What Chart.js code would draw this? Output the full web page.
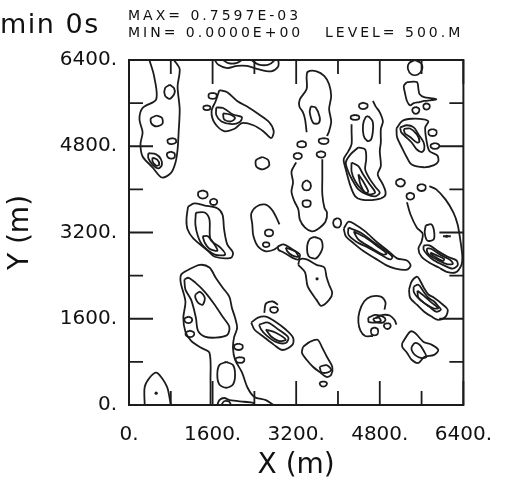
<!DOCTYPE html>
<html>
<head>
<meta charset="utf-8">
<style>
  html, body { margin: 0; padding: 0; background: #fff; }
</style>
</head>
<body>
<canvas id="contour-chart" width="510" height="488"></canvas>
<script src="https://cdn.jsdelivr.net/npm/chart.js@4.4.1/dist/chart.umd.min.js"></script>
<script>
// axis ticks (m)
const majorTicks = [0, 1600, 3200, 4800, 6400];
const minorTicks = [800, 2400, 4000, 5600];

// header text
const timeLabel = 'min 0s';
const maxLabel = 'MAX= 0.7597E-03';
const minLabel = 'MIN= 0.0000E+00';
const levelLabel = 'LEVEL= 500.M';

// contour lines, [x, y] in metres
const westStrip = [[390,6400],[480,6100],[520,5670],[260,5510],[200,5300],[260,5060],[220,4840],[260,4610],[450,4410],[630,4220],[800,4300],[890,4500],[930,4740],[950,5060],[970,5490],[930,5910],[970,6230],[860,6400]];
const westOvalA = [[780,5940],[860,5880],[870,5780],[780,5680],[690,5740],[690,5880],[780,5940]];
const westOvalB = [[530,5370],[630,5330],[640,5220],[530,5170],[430,5220],[420,5320],[530,5370]];
const westOvalC = [[820,4950],[890,4930],[900,4870],[820,4840],[750,4860],[740,4920],[820,4950]];
const westOvalD = [[800,4700],[870,4670],[870,4590],[800,4570],[740,4600],[730,4670],[800,4700]];
const westCore = [[370,4670],[520,4650],[610,4560],[630,4450],[560,4390],[450,4460],[370,4580],[370,4670]];
const westCoreInner = [[450,4590],[540,4550],[580,4460],[520,4440],[450,4520],[450,4590]];

const topBlob = [[1640,6400],[1710,6310],[1880,6250],[2070,6290],[2250,6290],[2470,6230],[2720,6190],[2850,6270],[2860,6380],[2830,6400]];
const topBlobInnerA = [[1800,6400],[1900,6340],[2050,6340],[2160,6400]];
const topBlobInnerB = [[2340,6400],[2470,6320],[2660,6310],[2770,6380],[2750,6400]];

const streak = [[1730,5840],[1880,5800],[2070,5640],[2290,5520],[2490,5390],[2680,5250],[2770,5080],[2720,4950],[2570,5080],[2380,5190],[2160,5230],[2030,5130],[1820,5080],[1640,5230],[1580,5450],[1660,5640],[1730,5840]];
const streakInner = [[1670,5520],[1800,5510],[1990,5390],[2160,5340],[2120,5250],[1970,5210],[1770,5260],[1670,5380],[1670,5520]];
const streakCore = [[1800,5410],[1930,5390],[2030,5320],[1950,5260],[1820,5300],[1800,5410]];
const streakOvalA = [[1600,5790],[1670,5770],[1670,5700],[1600,5680],[1530,5700],[1530,5770],[1600,5790]];
const streakOvalB = [[1490,5560],[1550,5540],[1550,5490],[1490,5470],[1430,5490],[1430,5540],[1490,5560]];
const loneOval = [[2550,4600],[2660,4550],[2680,4440],[2560,4370],[2440,4420],[2430,4540],[2550,4600]];

const midWest = [[1130,3680],[1250,3740],[1450,3700],[1690,3650],[1790,3530],[1820,3260],[1880,2980],[1990,2830],[1950,2730],[1640,2750],[1510,2860],[1230,3090],[1120,3260],[1100,3440],[1130,3680]];
const midWestInner = [[1280,3570],[1450,3570],[1540,3440],[1560,3070],[1750,2920],[1840,2790],[1640,2790],[1410,2960],[1320,3130],[1270,3350],[1280,3570]];
const midWestCore = [[1410,3130],[1510,3130],[1660,2940],[1690,2860],[1540,2900],[1450,3010],[1410,3130]];
const midWestOvalA = [[1410,3980],[1490,3950],[1500,3870],[1410,3830],[1330,3870],[1330,3950],[1410,3980]];
const midWestOvalB = [[1620,3830],[1680,3800],[1680,3740],[1620,3710],[1560,3740],[1560,3800],[1620,3830]];

const hook = [[2880,3350],[2810,3500],[2730,3630],[2600,3720],[2440,3680],[2340,3550],[2360,3350],[2380,3140],[2470,2940],[2620,2850],[2770,2880],[2860,2940]];
const hookOvalA = [[2680,3260],[2750,3230],[2750,3160],[2680,3130],[2610,3160],[2610,3230],[2680,3260]];
const hookOvalB = [[2620,3020],[2680,3000],[2680,2950],[2620,2930],[2570,2950],[2570,3000],[2620,3020]];
const chain = [[2850,2940],[2960,2980],[3140,2880],[3270,2790],[3240,2700],[3130,2730],[2960,2830],[2860,2880],[2850,2940]];
const chainCore = [[3000,2920],[3180,2850],[3240,2750],[3130,2770],[3030,2850],[3000,2920]];

const centerDrop = [[3240,2600],[3370,2460],[3420,2200],[3590,1950],[3680,1840],[3830,1950],[3890,2080],[3830,2230],[3780,2380],[3740,2550],[3590,2600],[3400,2700],[3270,2700],[3240,2600]];
const centerOval = [[3550,3120],[3680,3060],[3700,2900],[3580,2720],[3440,2760],[3410,2950],[3460,3080],[3550,3120]];

const column = [[3200,4500],[3110,4330],[3140,4130],[3110,3960],[3160,3790],[3240,3630],[3270,3440],[3370,3290],[3500,3220],[3610,3260],[3760,3400],[3790,3570],[3740,3660],[3700,3910],[3700,4190],[3700,4560]];
const columnOvalA = [[3400,4170],[3470,4120],[3470,4020],[3400,3980],[3330,4020],[3330,4120],[3400,4170]];
const columnOvalB = [[3400,3800],[3470,3780],[3470,3700],[3400,3670],[3330,3700],[3330,3780],[3400,3800]];
const columnSpeckA = [[3310,4900],[3380,4870],[3380,4800],[3310,4780],[3230,4800],[3230,4870],[3310,4900]];
const columnSpeckB = [[3230,4680],[3300,4650],[3300,4590],[3230,4560],[3160,4590],[3160,4650],[3230,4680]];
const columnSpeckC = [[3730,4950],[3810,4930],[3810,4870],[3730,4840],[3640,4870],[3640,4930],[3730,4950]];
const columnSpeckD = [[3680,4710],[3750,4680],[3750,4620],[3680,4590],[3600,4620],[3600,4680],[3680,4710]];

const upperColumn = [[3400,5060],[3370,5300],[3330,5430],[3260,5540],[3270,5670],[3400,5860],[3400,6080],[3420,6180],[3590,6190],[3740,6100],[3830,5950],[3870,5730],[3830,5490],[3870,5260],[3830,5080],[3790,4990]];
const upperColumnCore = [[3480,5540],[3570,5520],[3650,5340],[3630,5230],[3530,5230],[3460,5430],[3480,5540]];

const tower = [[4260,5210],[4260,5080],[4260,4840],[4200,4710],[4110,4560],[4150,4370],[4240,4060],[4330,3870],[4450,3810],[4720,3810],[4890,3870],[4910,3960],[4860,4090],[4760,4280],[4820,4430],[4800,4710],[4820,4870],[4820,5120],[4860,5260],[4800,5430],[4720,5540],[4670,5640]];
const towerTopA = [[4480,5610],[4560,5580],[4560,5520],[4480,5490],[4410,5520],[4410,5580],[4480,5610]];
const towerTopB = [[4330,5380],[4400,5360],[4400,5310],[4330,5290],[4250,5310],[4250,5360],[4330,5380]];
const towerSlot = [[4580,5360],[4660,5270],[4670,5100],[4630,4920],[4560,4900],[4490,5000],[4480,5200],[4530,5340],[4580,5360]];
const towerInnerA = [[4390,4780],[4520,4740],[4540,4560],[4520,4370],[4610,4190],[4720,4040],[4800,3940],[4710,3870],[4540,3910],[4390,4000],[4300,4130],[4200,4320],[4150,4500],[4240,4650],[4390,4780]];
const towerInnerB = [[4260,4500],[4390,4430],[4480,4280],[4610,4090],[4710,3940],[4580,3910],[4450,4000],[4330,4150],[4260,4330],[4260,4500]];
const towerInnerC = [[4390,4280],[4480,4150],[4580,3960],[4520,3940],[4430,4090],[4390,4280]];

const eastBox = [[5120,5130],[5230,5270],[5410,5310],[5640,5300],[5730,5260],[5670,5150],[5690,4930],[5750,4710],[5900,4630],[5920,4520],[5840,4450],[5640,4410],[5410,4460],[5320,4590],[5220,4780],[5130,4970],[5120,5130]];
const eastBoxInner = [[5190,5150],[5320,5190],[5450,5150],[5540,5020],[5640,4870],[5650,4740],[5600,4690],[5510,4740],[5410,4870],[5280,4990],[5210,5060],[5190,5150]];
const eastBoxCore = [[5260,5120],[5380,5130],[5510,5020],[5560,4890],[5510,4870],[5380,4970],[5280,5040],[5260,5120]];
const eastOvalA = [[5810,5120],[5880,5090],[5880,5020],[5810,4990],[5740,5020],[5740,5090],[5810,5120]];
const eastOvalB = [[5860,4860],[5930,4830],[5930,4780],[5860,4750],[5780,4780],[5780,4830],[5860,4860]];

const claw = [[5320,5990],[5510,5990],[5540,5860],[5560,5770],[5650,5710],[5790,5690],[5880,5670],[5650,5640],[5560,5620],[5450,5600],[5380,5560],[5320,5640],[5280,5800],[5260,5920],[5320,5990]];
const clawOvalA = [[5490,5530],[5550,5500],[5550,5440],[5490,5400],[5430,5440],[5430,5500],[5490,5530]];
const clawOvalB = [[5690,5600],[5750,5570],[5750,5510],[5690,5480],[5640,5510],[5640,5570],[5690,5600]];
const ring = [[5470,6400],[5590,6340],[5610,6230],[5530,6130],[5410,6130],[5340,6230],[5360,6340],[5470,6400]];

const eastDrop = [[5320,3760],[5390,3530],[5510,3290],[5620,3180],[5600,3030],[5540,2900],[5600,2750],[5750,2640],[5930,2550],[6080,2470],[6250,2460],[6360,2590],[6380,2750],[6340,3070],[6290,3350],[6210,3570],[6060,3810],[5880,4000],[5750,4060]];
const eastDropLoop = [[5680,3330],[5790,3350],[5840,3220],[5830,3070],[5710,3050],[5660,3200],[5680,3330]];
const eastDropBandA = [[5640,2960],[5750,2960],[5920,2850],[6100,2750],[6270,2680],[6290,2590],[6190,2530],[6030,2590],[5840,2680],[5710,2790],[5640,2880],[5640,2960]];
const eastDropBandB = [[5710,2910],[5800,2890],[5970,2780],[6150,2690],[6200,2620],[6100,2610],[5920,2680],[5740,2790],[5700,2860],[5710,2910]];
const eastDropBandC = [[5770,2830],[5880,2780],[6030,2710],[6010,2670],[5870,2740],[5780,2800],[5770,2830]];
const eyeDash = [[6010,3130],[6160,3130]];
const eastSpeckA = [[5200,4200],[5270,4160],[5270,4090],[5200,4050],[5120,4090],[5120,4160],[5200,4200]];
const eastSpeckB = [[5600,4100],[5670,4070],[5670,4000],[5600,3970],[5530,4000],[5530,4070],[5600,4100]];
const eastSpeckC = [[5380,3940],[5450,3910],[5450,3840],[5380,3810],[5320,3840],[5320,3910],[5380,3940]];

const diagonal = [[4110,3270],[4200,3400],[4330,3350],[4520,3220],[4760,3010],[4970,2850],[5130,2720],[5320,2680],[5390,2590],[5320,2510],[5100,2530],[4910,2600],[4710,2720],[4480,2860],[4300,3000],[4150,3130],[4110,3270]];
const diagonalInner = [[4200,3290],[4430,3200],[4670,3030],[4890,2880],[5040,2750],[5000,2700],[4820,2790],[4580,2920],[4350,3030],[4200,3160],[4200,3290]];
const diagonalCore = [[4300,3220],[4520,3110],[4760,2940],[4930,2810],[4860,2790],[4630,2920],[4390,3070],[4300,3220]];
const diagonalOval = [[3990,3470],[4050,3430],[4050,3330],[3990,3290],[3920,3330],[3920,3430],[3990,3470]];

const nest = [[2340,1530],[2470,1620],[2620,1640],[2810,1540],[3000,1400],[3140,1250],[3130,1120],[2940,1020],[2770,1120],[2570,1270],[2400,1400],[2340,1530]];
const nestInner = [[2490,1490],[2660,1530],[2860,1400],[3050,1250],[3000,1150],[2810,1170],[2620,1300],[2530,1400],[2490,1490]];
const nestCore = [[2620,1400],[2810,1340],[3000,1210],[2860,1190],[2720,1270],[2620,1400]];
const nestArc = [[2590,1710],[2620,1880],[2750,1920],[2850,1860]];
const nestOval = [[2780,1820],[2840,1800],[2840,1740],[2780,1710],[2710,1740],[2710,1800],[2780,1820]];

const southWest = [[1560,0],[1560,470],[1540,970],[1380,1060],[1190,1190],[1080,1360],[1040,1620],[1080,1920],[990,2270],[1000,2420],[1140,2510],[1360,2600],[1540,2550],[1660,2360],[1790,2180],[1920,2010],[1970,1800],[2030,1620],[2070,1430],[2010,1250],[1990,1060],[2030,840],[2160,610],[2270,320],[2400,150],[2620,90],[2770,0]];
const southWestInner = [[1060,2330],[1140,2360],[1270,2270],[1450,2100],[1640,1860],[1790,1640],[1920,1450],[1880,1300],[1660,1250],[1450,1270],[1320,1380],[1280,1620],[1190,1950],[1080,2140],[1060,2330]];
const southWestCore = [[1270,2050],[1360,2100],[1450,1990],[1410,1860],[1320,1900],[1270,1990],[1270,2050]];
const southWestOvalA = [[1140,1640],[1200,1610],[1200,1550],[1140,1520],[1070,1550],[1070,1610],[1140,1640]];
const southWestOvalB = [[1170,1380],[1240,1350],[1240,1290],[1170,1260],[1090,1290],[1090,1350],[1170,1380]];
const southWestOvalC = [[2100,1140],[2170,1110],[2170,1050],[2100,1020],[2020,1050],[2020,1110],[2100,1140]];
const southWestOvalD = [[2130,890],[2200,870],[2200,810],[2130,780],[2050,810],[2050,870],[2130,890]];
const southWestPool = [[1860,800],[1990,740],[2030,560],[1990,380],[1860,320],[1730,380],[1690,560],[1730,740],[1860,800]];

const origin = [[300,0],[300,330],[390,500],[520,600],[630,500],[730,330],[760,220],[800,0]];
const floor = [[1690,0],[1730,90],[1820,130],[1930,90],[2200,60],[2380,40],[2400,0]];
const floorInner = [[1770,0],[1820,70],[1920,60],[1950,0]];

const spiral = [[4890,1770],[4910,1900],[4820,2010],[4630,2010],[4500,1920],[4410,1730],[4390,1540],[4430,1380],[4520,1280],[4670,1280]];
const spiralHook = [[4720,1620],[4860,1670],[4990,1660],[5080,1580],[5120,1490]];
const spiralInner = [[4580,1620],[4710,1670],[4860,1640],[4910,1580],[4860,1530],[4710,1530],[4590,1540],[4580,1620]];
const spiralCore = [[4670,1600],[4780,1620],[4820,1560],[4720,1540],[4670,1600]];
const spiralOvalA = [[4700,1440],[4760,1410],[4760,1320],[4700,1290],[4640,1320],[4640,1410],[4700,1440]];
const spiralOvalB = [[4950,1520],[5000,1500],[5000,1440],[4950,1410],[4890,1440],[4890,1500],[4950,1520]];

const wedge = [[5230,1150],[5380,1360],[5470,1340],[5640,1170],[5790,1120],[5920,1020],[5840,930],[5650,890],[5540,780],[5410,840],[5320,970],[5230,1080],[5230,1150]];
const wedgeInner = [[5410,1080],[5470,1150],[5560,1120],[5650,990],[5690,890],[5600,870],[5470,930],[5410,1020],[5410,1080]];

const southDrop = [[3330,1080],[3460,1170],[3610,1210],[3700,1060],[3790,890],[3890,710],[3870,560],[3780,520],[3650,610],[3520,710],[3400,840],[3310,970],[3330,1080]];
const southDropInner = [[3650,710],[3780,740],[3870,650],[3790,600],[3680,610],[3650,710]];
const southDropOval = [[3720,440],[3780,420],[3780,370],[3720,340],[3660,370],[3660,420],[3720,440]];

const eastBand = [[5360,2140],[5410,2290],[5510,2380],[5560,2330],[5640,2180],[5730,2050],[5840,1990],[6010,1860],[6100,1770],[6060,1640],[5920,1580],[5790,1640],[5650,1730],[5510,1860],[5380,1990],[5360,2140]];
const eastBandInner = [[5450,2200],[5540,2230],[5640,2100],[5730,1990],[5840,1920],[5930,1820],[5970,1770],[5880,1730],[5750,1820],[5640,1900],[5510,2010],[5450,2100],[5450,2200]];
const eastBandCore = [[5520,2120],[5640,2030],[5790,1900],[5920,1800],[5840,1790],[5670,1880],[5540,1990],[5520,2120]];

// single-point marks inside contours
const dots = [[520,220],[3600,2340],[6080,3130]];

const contourLines = [
    westStrip, westOvalA, westOvalB, westOvalC, westOvalD, westCore, westCoreInner,
    topBlob, topBlobInnerA, topBlobInnerB,
    streak, streakInner, streakCore, streakOvalA, streakOvalB, loneOval,
    midWest, midWestInner, midWestCore, midWestOvalA, midWestOvalB,
    hook, hookOvalA, hookOvalB, chain, chainCore,
    centerDrop, centerOval,
    column, columnOvalA, columnOvalB, columnSpeckA, columnSpeckB, columnSpeckC, columnSpeckD,
    upperColumn, upperColumnCore,
    tower, towerTopA, towerTopB, towerSlot, towerInnerA, towerInnerB, towerInnerC,
    eastBox, eastBoxInner, eastBoxCore, eastOvalA, eastOvalB,
    claw, clawOvalA, clawOvalB, ring,
    eastDrop, eastDropLoop, eastDropBandA, eastDropBandB, eastDropBandC, eyeDash,
    eastSpeckA, eastSpeckB, eastSpeckC,
    diagonal, diagonalInner, diagonalCore, diagonalOval,
    nest, nestInner, nestCore, nestArc, nestOval,
    southWest, southWestInner, southWestCore, southWestOvalA, southWestOvalB,
    southWestOvalC, southWestOvalD, southWestPool,
    origin, floor, floorInner,
    spiral, spiralHook, spiralInner, spiralCore, spiralOvalA, spiralOvalB,
    wedge, wedgeInner,
    southDrop, southDropInner, southDropOval,
    eastBand, eastBandInner, eastBandCore,
];

const ink = '#1c1c1c';
const fontFamily = '"DejaVu Sans", "Liberation Sans", sans-serif';

function contourDataset(points) {
    return {
        data: points.map(([x, y]) => ({ x, y })),
        showLine: true,
        borderColor: ink,
        borderWidth: 1.8,
        pointRadius: 0,
        tension: 0.3,
        fill: false,
    };
}

// frame and inward ticks on all four sides
const frameTicks = {
    id: 'frameTicks',
    afterDatasetsDraw(chart) {
        const { ctx, chartArea: a, scales: { x, y } } = chart;
        ctx.save();
        ctx.strokeStyle = ink;
        ctx.lineWidth = 2;
        ctx.strokeRect(a.left, a.top, a.right - a.left, a.bottom - a.top);
        ctx.lineWidth = 1.8;
        const marks = [
            ...majorTicks.map((v) => [v, 24]),
            ...minorTicks.map((v) => [v, 14]),
        ];
        ctx.beginPath();
        marks.forEach(([v, len]) => {
            const px = x.getPixelForValue(v);
            const py = y.getPixelForValue(v);
            ctx.moveTo(px, a.bottom);
            ctx.lineTo(px, a.bottom - len);
            ctx.moveTo(px, a.top);
            ctx.lineTo(px, a.top + len);
            ctx.moveTo(a.left, py);
            ctx.lineTo(a.left + len, py);
            ctx.moveTo(a.right, py);
            ctx.lineTo(a.right - len, py);
        });
        ctx.stroke();
        ctx.restore();
    },
};

const header = {
    id: 'header',
    afterDraw(chart) {
        const { ctx } = chart;
        ctx.save();
        ctx.fillStyle = '#111';
        ctx.textAlign = 'left';
        ctx.textBaseline = 'alphabetic';
        ctx.font = '27px ' + fontFamily;
        ctx.letterSpacing = '1.5px';
        ctx.fillText(timeLabel, 0, 33);
        ctx.font = '14px ' + fontFamily;
        ctx.letterSpacing = '3px';
        ctx.fillText(maxLabel, 128, 20);
        ctx.fillText(minLabel, 128, 37);
        ctx.fillText(levelLabel, 325, 37);
        ctx.restore();
    },
};

const axisFont = { family: fontFamily, size: 20 };
const titleFont = { family: fontFamily, size: 28 };

new Chart(document.getElementById('contour-chart'), {
    type: 'scatter',
    data: {
        datasets: [
            ...contourLines.map(contourDataset),
            {
                data: dots.map(([x, y]) => ({ x, y })),
                showLine: false,
                pointRadius: 1.6,
                pointBackgroundColor: ink,
                pointBorderWidth: 0,
            },
        ],
    },
    options: {
        responsive: false,
        animation: false,
        devicePixelRatio: 1,
        layout: { padding: { top: 60, right: 37, left: 0, bottom: 0 } },
        plugins: {
            legend: { display: false },
            tooltip: { enabled: false },
        },
        scales: {
            x: {
                type: 'linear',
                min: 0,
                max: 6400,
                afterBuildTicks(scale) {
                    scale.ticks = majorTicks.map((v) => ({ value: v }));
                },
                afterFit(scale) {
                    scale.height = 83;
                },
                grid: { display: false, drawTicks: false },
                border: { display: false },
                ticks: {
                    color: '#111',
                    font: axisFont,
                    padding: 18,
                    maxRotation: 0,
                    autoSkip: false,
                    callback: (v) => v + '.',
                },
                title: {
                    display: true,
                    text: 'X (m)',
                    color: '#111',
                    font: titleFont,
                    padding: { top: 0, bottom: 5 },
                },
            },
            y: {
                type: 'linear',
                min: 0,
                max: 6400,
                afterBuildTicks(scale) {
                    scale.ticks = majorTicks.map((v) => ({ value: v }));
                },
                afterFit(scale) {
                    scale.width = 129;
                },
                grid: { display: false, drawTicks: false },
                border: { display: false },
                ticks: {
                    color: '#111',
                    font: axisFont,
                    padding: 12,
                    autoSkip: false,
                    callback: (v) => v + '.',
                },
                title: {
                    display: true,
                    text: 'Y (m)',
                    color: '#111',
                    font: titleFont,
                    padding: { top: 4, bottom: 0 },
                },
            },
        },
    },
    plugins: [frameTicks, header],
});
</script>
</body>
</html>
